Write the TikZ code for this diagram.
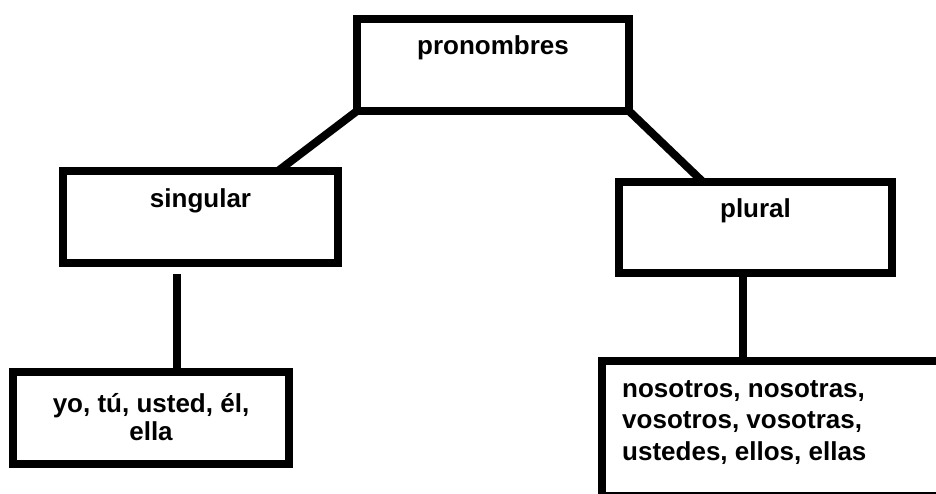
\documentclass[tikz,border=0pt]{standalone}
\usepackage{fontspec}
\setmainfont{Liberation Sans}
\usetikzlibrary{calc}

\begin{document}
\begin{tikzpicture}[x=1pt, y=-1pt,
  box/.style={draw=black, line width=8pt, inner sep=0pt, outer sep=0pt},
  link/.style={black, line width=8pt},
  word/.style={font=\fontsize{26}{31.5}\selectfont\bfseries, inner sep=0pt}]
\useasboundingbox (0,0) rectangle (936,494);
\clip (0,0) rectangle (936,494);

\node[box, minimum width=272pt, minimum height=92pt] (pron) at (493,65) {};
\node[word, anchor=base] (pronT) at ($(pron.north)+(0,36)$) {pronombres};

\node[box, minimum width=275pt, minimum height=92pt] (sing) at (200.5,217) {};
\node[word, anchor=base] (singT) at ($(sing.north)+(0,37)$) {singular};

\node[box, minimum width=273pt, minimum height=91pt] (plur) at (755.5,227.5) {};
\node[word, anchor=base] (plurT) at ($(plur.north)+(0,36)$) {plural};

\node[box, minimum width=276pt, minimum height=92pt] (yo) at (151,418) {};
\node[word, anchor=base, align=center, font=\fontsize{26}{28}\selectfont\bfseries] (yoT) at ($(yo.north)+(0,68)$) {yo, tú, usted, él,\\ ella};

\node[box, anchor=north west, minimum width=344pt, minimum height=135pt] (nos) at (602,361) {};
\node[word, anchor=base west, align=left] (nosT) at ($(nos.north west)+(20,99)$) {nosotros, nosotras,\\ vosotros, vosotras,\\ ustedes, ellos, ellas};

\draw[link] (pron.south west) -- ([xshift=-60pt]sing.north east);
\draw[link] (pron.south east) -- ([xshift=84pt]plur.north west);

\draw[link] ([xshift=26pt]yo.north) -- ++(0,-98);
\draw[link] ([xshift=-12.5pt]plur.south) -- ([xshift=-12.5pt]plur.south |- nos.north);
\end{tikzpicture}
\end{document}
